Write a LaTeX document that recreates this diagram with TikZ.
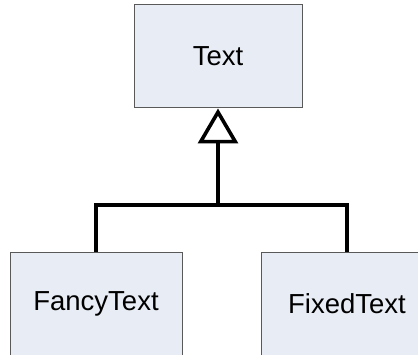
\documentclass[tikz,border=0pt]{standalone}
\usepackage{fontspec}
\setmainfont{Liberation Sans}
\usepackage{xcolor}
\usetikzlibrary{arrows.meta,positioning}
\definecolor{boxfill}{HTML}{E8ECF4}

\begin{document}
\begin{tikzpicture}[x=1pt, y=1pt,
  cls/.style={rectangle, draw=black!65, line width=1pt, fill=boxfill,
    text centered, minimum height=103pt, font=\fontsize{27.5}{32}\selectfont},
  arr/.style={line width=3.6pt, draw=black},
  inh/.style={-{Triangle[open, length=35pt, width=40pt]}}
]
\useasboundingbox (0,0) rectangle (418,354);

\node[cls, minimum width=168pt] (Text) at (218,297.5) {Text};
\node[cls, minimum width=172pt] (Fancy) at (96,50.5) {FancyText};
\node[cls, minimum width=172pt] (Fixed) at (347,50.5) {FixedText};

\coordinate (bar) at (218,149);

\draw[arr] (Fancy.north) |- (bar) -| (Fixed.north);
\draw[arr, inh] (bar) -- (Text.south);

\end{tikzpicture}
\end{document}
